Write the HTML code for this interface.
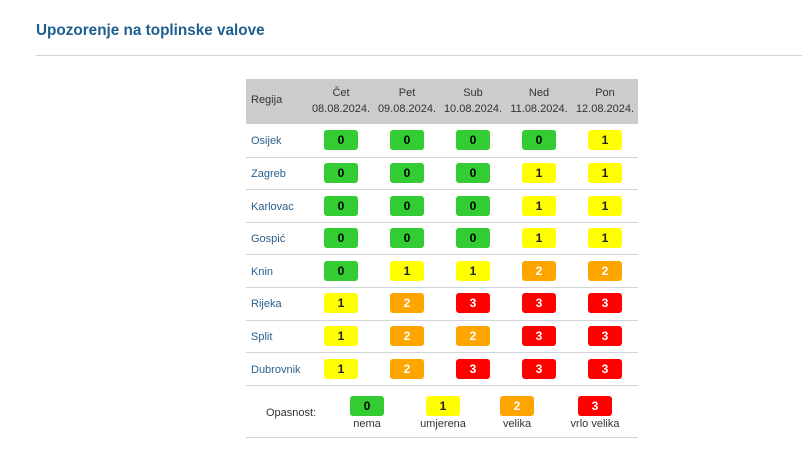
<!DOCTYPE html>
<html><head><meta charset="utf-8"><style>
*{margin:0;padding:0;box-sizing:border-box}
body{width:802px;height:455px;background:#fff;font-family:"Liberation Sans",sans-serif;position:relative;overflow:hidden}
.a{position:absolute}
.t{left:36px;top:22px;font-size:15.3px;font-weight:bold;color:#1d5f8e}
.hl{left:36px;top:55px;width:766px;height:1px;background:#d4d4d4}
.hdr{left:246px;top:79px;width:392px;height:45px;background:#cccccc}
.h{font-size:11px;color:#333;text-align:center;line-height:16px;width:66px}
.rn{font-size:11px;color:#2a5f8c;left:251px}
.ln{left:246px;width:392px;height:1px;background:#d0d4da}
.b{width:34px;height:20px;border-radius:3px;font-size:12px;font-weight:bold;text-align:center;line-height:20px}
.c0{background:#33cc33;color:#000}.c1{background:#ffff00;color:#222}.c2{background:#ffa500;color:#fff}.c3{background:#ff0000;color:#fff}
.lg{font-size:11px;color:#333;text-align:center;width:80px}
</style></head><body>
<div class="a t">Upozorenje na toplinske valove</div>
<div class="a hl"></div>
<div class="a hdr"></div>
<div class="a" style="left:251px;top:94px;font-size:11px;color:#333">Regija</div>
<div class="a h" style="left:308px;top:85px">Čet<br>08.08.2024.</div>
<div class="a h" style="left:374px;top:85px">Pet<br>09.08.2024.</div>
<div class="a h" style="left:440px;top:85px">Sub<br>10.08.2024.</div>
<div class="a h" style="left:506px;top:85px">Ned<br>11.08.2024.</div>
<div class="a h" style="left:572px;top:85px">Pon<br>12.08.2024.</div>
<div id="rows"></div>
<div class="a ln" style="top:437px"></div>
<div class="a" style="left:266px;top:407px;font-size:11px;color:#333">Opasnost:</div>
<div class="a b c0" style="left:350px;top:396px">0</div>
<div class="a b c1" style="left:426px;top:396px">1</div>
<div class="a b c2" style="left:500px;top:396px">2</div>
<div class="a b c3" style="left:578px;top:396px">3</div>
<div class="a lg" style="left:327px;top:418px">nema</div>
<div class="a lg" style="left:403px;top:418px">umjerena</div>
<div class="a lg" style="left:477px;top:418px">velika</div>
<div class="a lg" style="left:555px;top:418px">vrlo velika</div>
<script>
var d=[["Osijek",[0,0,0,0,1]],["Zagreb",[0,0,0,1,1]],["Karlovac",[0,0,0,1,1]],["Gospić",[0,0,0,1,1]],["Knin",[0,1,1,2,2]],["Rijeka",[1,2,3,3,3]],["Split",[1,2,2,3,3]],["Dubrovnik",[1,2,3,3,3]]];
var h="";var xs=[324,390,456,522,588];
d.forEach(function(r,i){var top=124+i*32.6;var cy=top+16.3;
h+='<div class="a rn" style="top:'+(cy-5)+'px">'+r[0]+'</div>';
r[1].forEach(function(v,j){h+='<div class="a b c'+v+'" style="left:'+xs[j]+'px;top:'+(cy-10)+'px">'+v+'</div>';});
h+='<div class="a ln" style="top:'+Math.round(top+32.6)+'px"></div>';});
document.getElementById("rows").innerHTML=h;
</script>
</body></html>
